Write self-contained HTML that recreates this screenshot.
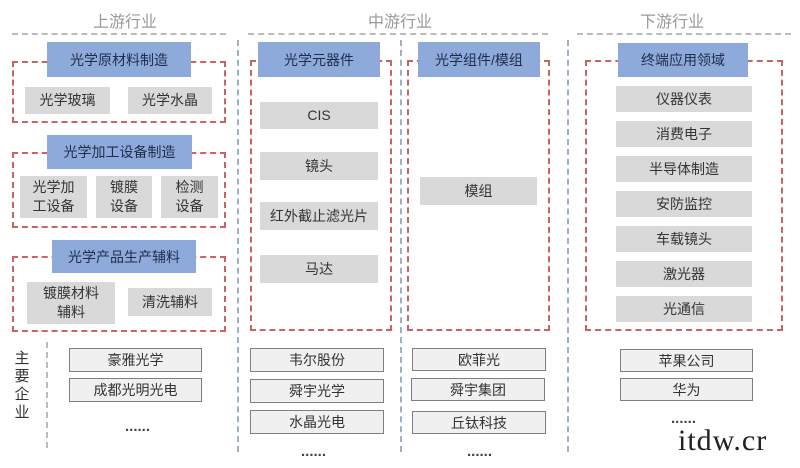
<!DOCTYPE html>
<html><head><meta charset="utf-8"><style>
body{margin:0;width:800px;height:468px;background:#fff;position:relative;overflow:hidden;font-family:"Liberation Sans","Noto Sans CJK SC",sans-serif;}
div{position:absolute;box-sizing:border-box;}
.h{font-size:16px;color:#9a9a9a;text-align:center;}
.hl{height:0;border-top:2px dashed #bbb;}
.vl{width:0;border-left:2px dashed #9fb0c4;}
.red{border:2px dashed #c86464;}
.b{background:#8eaadb;color:#1f2d4a;font-size:14px;display:flex;align-items:center;justify-content:center;}
.g{background:#d9d9d9;color:#333;font-size:14px;display:flex;align-items:center;justify-content:center;text-align:center;line-height:19px;}
.c{background:#f0f0f0;border:1.5px solid #7f7f7f;color:#333;font-size:14px;display:flex;align-items:center;justify-content:center;}
.d{font-size:15px;color:#444;letter-spacing:0px;font-weight:bold;}
</style></head><body>
<div class="h" style="left:25px;top:8px;width:200px">上游行业</div>
<div class="h" style="left:300px;top:8px;width:200px">中游行业</div>
<div class="h" style="left:572px;top:8px;width:200px">下游行业</div>
<div class="hl" style="left:12px;top:33px;width:214px"></div>
<div class="hl" style="left:248px;top:33px;width:300px"></div>
<div class="hl" style="left:577px;top:33px;width:214px"></div>
<div class="vl" style="left:237px;top:40px;height:412px"></div>
<div class="vl" style="left:400px;top:40px;height:412px"></div>
<div class="vl" style="left:567px;top:40px;height:412px"></div>
<div class="vl" style="left:46px;top:342px;height:106px;border-color:#bbb"></div>

<div class="red" style="left:12px;top:61px;width:214px;height:62px"></div>
<div class="b" style="left:47px;top:42px;width:144px;height:35px">光学原材料制造</div>
<div class="g" style="left:25px;top:87px;width:85px;height:27px">光学玻璃</div>
<div class="g" style="left:128px;top:87px;width:84px;height:27px">光学水晶</div>

<div class="red" style="left:12px;top:152px;width:214px;height:76px"></div>
<div class="b" style="left:47px;top:135px;width:145px;height:34px">光学加工设备制造</div>
<div class="g" style="left:20px;top:176px;width:67px;height:42px">光学加<br>工设备</div>
<div class="g" style="left:96px;top:176px;width:56px;height:42px">镀膜<br>设备</div>
<div class="g" style="left:161px;top:176px;width:57px;height:42px">检测<br>设备</div>

<div class="red" style="left:12px;top:256px;width:214px;height:76px"></div>
<div class="b" style="left:52px;top:240px;width:144px;height:33px">光学产品生产辅料</div>
<div class="g" style="left:27px;top:282px;width:88px;height:42px">镀膜材料<br>辅料</div>
<div class="g" style="left:128px;top:288px;width:84px;height:28px">清洗辅料</div>

<div style="left:12px;top:350px;width:20px;font-size:15px;line-height:18px;color:#333;text-align:center">主<br>要<br>企<br>业</div>
<div class="c" style="left:69px;top:348px;width:133px;height:24px">豪雅光学</div>
<div class="c" style="left:69px;top:378px;width:133px;height:24px">成都光明光电</div>
<div class="d" style="left:125px;top:418px">......</div>

<div class="red" style="left:250px;top:60px;width:142px;height:271px"></div>
<div class="b" style="left:258px;top:42px;width:122px;height:35px">光学元器件</div>
<div class="g" style="left:260px;top:102px;width:118px;height:27px">CIS</div>
<div class="g" style="left:260px;top:152px;width:118px;height:28px">镜头</div>
<div class="g" style="left:260px;top:202px;width:118px;height:28px">红外截止滤光片</div>
<div class="g" style="left:260px;top:255px;width:118px;height:28px">马达</div>
<div class="c" style="left:250px;top:348px;width:134px;height:24px">韦尔股份</div>
<div class="c" style="left:250px;top:379px;width:134px;height:24px">舜宇光学</div>
<div class="c" style="left:250px;top:410px;width:134px;height:24px">水晶光电</div>
<div class="d" style="left:301px;top:443px">......</div>

<div class="red" style="left:407px;top:60px;width:143px;height:271px"></div>
<div class="b" style="left:418px;top:42px;width:122px;height:35px">光学组件/模组</div>
<div class="g" style="left:420px;top:177px;width:117px;height:28px">模组</div>
<div class="c" style="left:412px;top:348px;width:134px;height:23px">欧菲光</div>
<div class="c" style="left:411px;top:378px;width:134px;height:23px">舜宇集团</div>
<div class="c" style="left:412px;top:411px;width:134px;height:23px">丘钛科技</div>
<div class="d" style="left:467px;top:443px">......</div>

<div class="red" style="left:585px;top:60px;width:198px;height:271px"></div>
<div class="b" style="left:618px;top:43px;width:130px;height:34px">终端应用领域</div>
<div class="g" style="left:616px;top:86px;width:136px;height:26px">仪器仪表</div>
<div class="g" style="left:616px;top:121px;width:136px;height:26px">消费电子</div>
<div class="g" style="left:616px;top:156px;width:136px;height:26px">半导体制造</div>
<div class="g" style="left:616px;top:191px;width:136px;height:26px">安防监控</div>
<div class="g" style="left:616px;top:226px;width:136px;height:26px">车载镜头</div>
<div class="g" style="left:616px;top:261px;width:136px;height:26px">激光器</div>
<div class="g" style="left:616px;top:296px;width:136px;height:26px">光通信</div>
<div class="c" style="left:620px;top:349px;width:133px;height:23px">苹果公司</div>
<div class="c" style="left:620px;top:378px;width:133px;height:23px">华为</div>
<div class="d" style="left:671px;top:410px">......</div>
<div style="left:678px;top:424px;font-family:'Liberation Serif',serif;font-size:30px;color:#222;letter-spacing:1px;white-space:nowrap">itdw.cr</div>
</body></html>
